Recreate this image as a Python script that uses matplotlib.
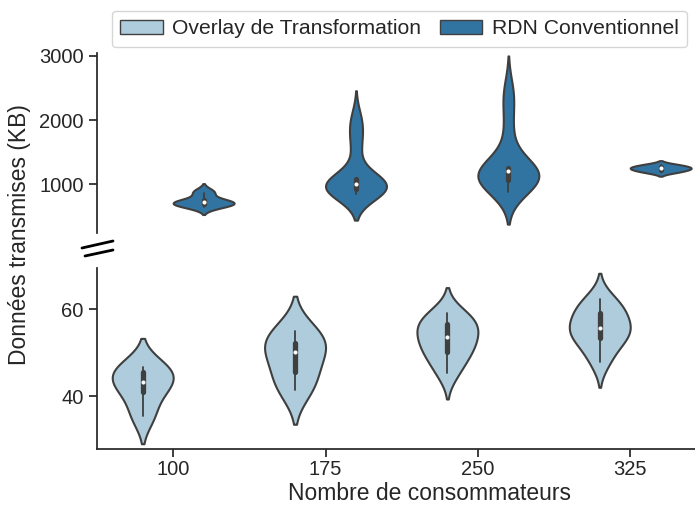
"""Violons des données transmises, axe y coupé en deux panneaux."""

import matplotlib

matplotlib.use("Agg")

import matplotlib.pyplot as plt
import pandas as pd
import seaborn as sns
from matplotlib.lines import Line2D
from matplotlib.patches import Patch

CONSUMERS = ["100", "175", "250", "325"]
METHODS = ["Overlay de Transformation", "RDN Conventionnel"]

# Overlay de Transformation, données transmises (KB)
OVERLAY_100 = [35.5, 40.9, 43.2, 45.6, 46.8]
OVERLAY_175 = [41.4, 45.5, 50.2, 52.2, 55.1]
OVERLAY_250 = [45.2, 48.5, 50.2, 52.0, 53.5, 55.0, 56.5, 57.8, 59.1]
OVERLAY_325 = [47.9, 51.5, 53.3, 54.8, 55.6, 57.0, 59.2, 60.5, 62.4]

# RDN Conventionnel, données transmises (KB)
RDN_100 = [640, 670, 690, 705, 720, 740, 760, 860, 900]
RDN_175 = [850, 870, 890, 905, 915, 927, 945, 960, 975, 990, 1005,
           1020, 1035, 1050, 1065, 1078, 1450, 1650, 1800, 1950, 2050]
RDN_250 = [880, 920, 960, 1000, 1040, 1067, 1100, 1130, 1160, 1185, 1207,
           1220, 1230, 1238, 1244, 1249, 1550, 1800, 2100, 2350, 2500]
RDN_325 = [1190, 1225, 1250, 1272, 1305]

OVERLAY = [OVERLAY_100, OVERLAY_175, OVERLAY_250, OVERLAY_325]
RDN = [RDN_100, RDN_175, RDN_250, RDN_325]

W, H = 695, 505


def _long_table() -> pd.DataFrame:
    rows = []
    for method, groups in zip(METHODS, [OVERLAY, RDN]):
        for consumer, values in zip(CONSUMERS, groups):
            for value in values:
                rows.append({"consumers": consumer, "method": method, "kb": value})
    return pd.DataFrame(rows)


sns.set_theme(style="ticks")
plt.rcParams["font.family"] = ["Liberation Sans", "DejaVu Sans"]

data = _long_table()
palette = sns.color_palette("Paired", 2)

fig = plt.figure(figsize=(W / 100, H / 100), dpi=100)
left = 97 / W
width = (706.4 - 97) / W
ax_top = fig.add_axes([left, (H - 233) / H, width, (233 - 52.7) / H])
ax_bot = fig.add_axes([left, (H - 449) / H, width, (449 - 268) / H])

for ax in (ax_top, ax_bot):
    sns.violinplot(
        data=data,
        x="consumers",
        y="kb",
        hue="method",
        order=CONSUMERS,
        hue_order=METHODS,
        palette=palette,
        density_norm="width",
        linewidth=1.5,
        inner_kws={"box_width": 3.8, "whis_width": 1.3,
                   "marker": "o", "markersize": 2.2},
        legend=False,
        ax=ax,
    )
    ax.set_xlim(-0.5, 3.5)
    ax.tick_params(labelsize=14.5)

ax_top.set_ylim(241, 3051)
ax_top.set_yticks([1000, 2000, 3000])
ax_top.set_xlabel("")
ax_top.set_ylabel("")
ax_top.tick_params(bottom=False, labelbottom=False)
sns.despine(ax=ax_top, bottom=True)

ax_bot.set_ylim(27.8, 69.5)
ax_bot.set_yticks([40, 60])
ax_bot.set_ylabel("")
ax_bot.tick_params(axis="x", pad=2.0)
ax_bot.set_xlabel("Nombre de consommateurs", fontsize=16.5)
ax_bot.xaxis.set_label_coords((430 - 97) / (706.4 - 97), -0.18)
ax_bot.xaxis.label.set_va("top")
sns.despine(ax=ax_bot)

fig.text(20 / W, 1 - 235 / H, "Données transmises (KB)", rotation=90,
         ha="center", va="center", fontsize=16.5)

# marques de coupure sur l'axe y
for (x0, y0), (x1, y1) in [((82, 248), (113, 241)), ((85, 256), (113, 250))]:
    fig.add_artist(Line2D([x0 / W, x1 / W], [1 - y0 / H, 1 - y1 / H],
                          transform=fig.transFigure, color="black", lw=2.0))

handles = [
    Patch(facecolor=sns.desaturate(color, 0.75), edgecolor=".25", label=label)
    for color, label in zip(palette, METHODS)
]
fig.legend(handles=handles, loc="upper left", ncol=2, fontsize=15.2,
           bbox_to_anchor=(112 / W, 1 - 11 / H), frameon=True,
           handlelength=2.0, columnspacing=0.9, handletextpad=0.45,
           borderaxespad=0.0)

fig.savefig("out.png", dpi=100)
